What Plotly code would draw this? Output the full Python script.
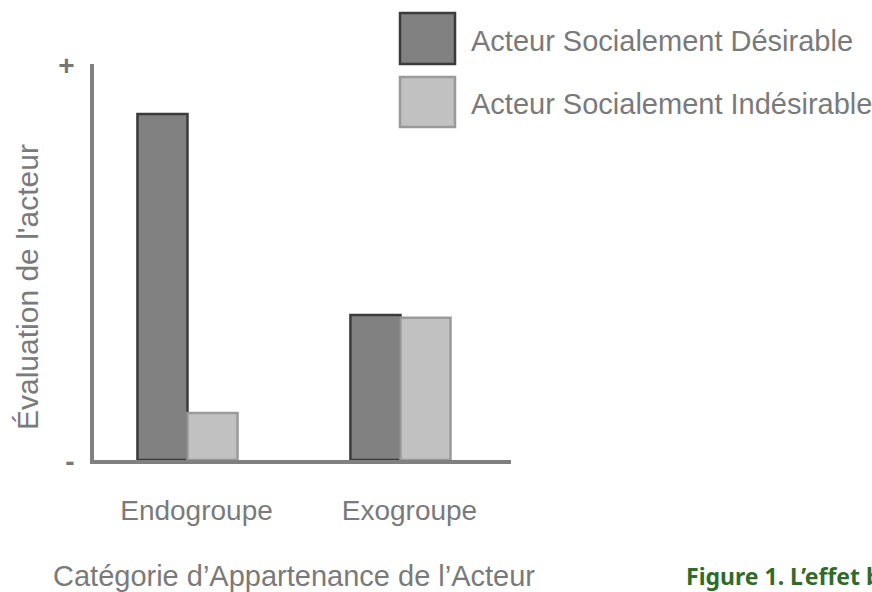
import plotly.graph_objects as go

categories = ["Endogroupe", "Exogroupe"]
series_names = ["Acteur Socialement Désirable", "Acteur Socialement Indésirable"]
desirable = [87.4, 36.6]
indesirable = [11.9, 35.9]
y_tick_labels = ["-", "+"]
x_title = "Catégorie d’Appartenance de l’Acteur"
y_title = "Évaluation de l'acteur"
caption = "Figure 1. L’effet b"

W, H = 872, 592
L, R, T, B = 94, 511, 64, 460
FONT = "Liberation Sans, Arial, sans-serif"
TXT = "#7a7a7a"

def px(x):
    return (x - L) / (R - L)

def py(y):
    return (B - y) / (B - T)

fig = go.Figure()
fig.add_trace(go.Bar(x=categories, y=desirable, name=series_names[0],
                     marker=dict(color="#818181", line=dict(color="#3b3b3b", width=2.5))))
fig.add_trace(go.Bar(x=categories, y=indesirable, name=series_names[1],
                     marker=dict(color="#c1c1c1", line=dict(color="#9a9a9a", width=2.5))))

fig.update_layout(
    width=W, height=H,
    margin=dict(l=L, r=W - R, t=T, b=H - B, pad=0),
    paper_bgcolor="white", plot_bgcolor="white",
    barmode="group", bargap=0.53, bargroupgap=0.0,
    showlegend=False,
    font=dict(family=FONT, color=TXT, size=29),
)
fig.update_xaxes(range=[-0.439, 1.519], showline=True, linecolor="#808080", linewidth=3.5,
                 showgrid=False, zeroline=False, ticks="", ticklabelstandoff=23,
                 ticklabelshift=9, tickfont=dict(size=28, color=TXT, family=FONT))
fig.update_yaxes(range=[0, 100], showline=True, linecolor="#808080", linewidth=3.5,
                 showgrid=False, zeroline=False, ticks="", tickvals=[0, 100],
                 ticktext=["<b>" + t + "</b>" for t in y_tick_labels], ticklabelstandoff=10,
                 ticklabelshift=1,
                 tickfont=dict(size=28, color="#777777", family=FONT))

# legend boxes
fig.add_shape(type="rect", xref="paper", yref="paper", x0=px(400), x1=px(455), y0=py(64), y1=py(13),
              fillcolor="#818181", line=dict(color="#3b3b3b", width=2.5))
fig.add_shape(type="rect", xref="paper", yref="paper", x0=px(400), x1=px(455), y0=py(127), y1=py(77),
              fillcolor="#c1c1c1", line=dict(color="#9a9a9a", width=2.5))
for name, yc in zip(series_names, [41, 104]):
    fig.add_annotation(xref="paper", yref="paper", x=px(469), y=py(yc), xanchor="left", yanchor="middle",
                       text=name, showarrow=False, font=dict(size=29, color=TXT, family=FONT))

fig.add_annotation(xref="paper", yref="paper", x=px(294), y=py(576), xanchor="center", yanchor="middle",
                   text=x_title, showarrow=False, font=dict(size=29, color=TXT, family=FONT))
fig.add_annotation(xref="paper", yref="paper", x=px(27), y=py(287), xanchor="center", yanchor="middle",
                   text=y_title, textangle=-90, showarrow=False, font=dict(size=30, color=TXT, family=FONT))
fig.add_annotation(xref="paper", yref="paper", x=px(684), y=py(576), xanchor="left", yanchor="middle",
                   text="<b>" + caption + "</b>", showarrow=False,
                   font=dict(size=23, color="#2f6b2a", family="Noto Sans, Open Sans, sans-serif"))

fig.write_html("out.html", config={"displayModeBar": False},
               post_script="document.body.style.margin='0';document.body.style.padding='0';")
